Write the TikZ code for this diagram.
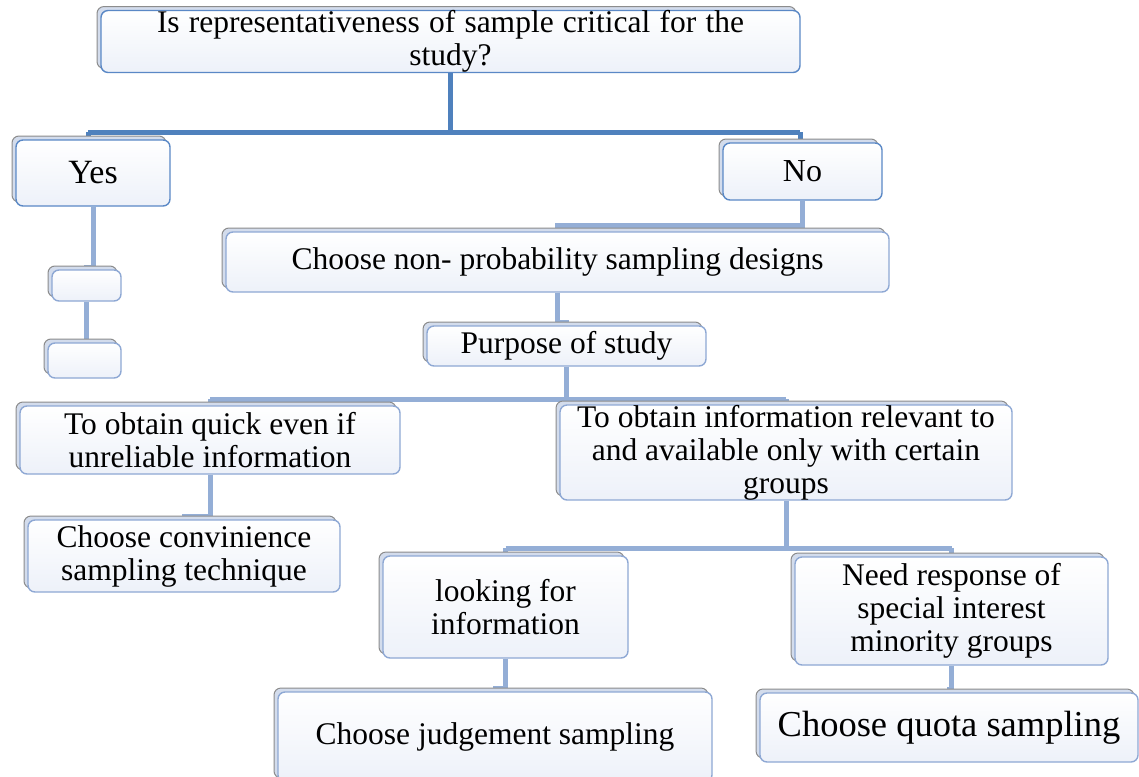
\documentclass[tikz,border=0pt]{standalone}
\usepackage{fontspec}
\setmainfont{Liberation Serif}
\usetikzlibrary{shadows,backgrounds,calc}
\definecolor{lineA}{HTML}{4F81BD}
\definecolor{lineB}{HTML}{94AED6}
\definecolor{edgeA}{HTML}{5A88C6}
\definecolor{edgeB}{HTML}{8EA8D4}
\definecolor{shadeF}{HTML}{D3DCEC}
\definecolor{shadeD}{HTML}{8C8C8C}
\definecolor{boxBot}{HTML}{EDF1F9}
\tikzset{
  box/.style={rounded corners=7pt, draw=edgeB, line width=1.4pt,
    top color=white, bottom color=boxBot, align=center, inner sep=0pt,
    font=\fontsize{31.5}{33}\selectfont,
    copy shadow={shadow xshift=-4pt, shadow yshift=4pt, draw=shadeD, fill=shadeF, line width=1pt}},
  boxA/.style={box, draw=edgeA},
  connA/.style={draw=lineA, line width=5pt},
  connB/.style={draw=lineB, line width=5pt},
}
\begin{document}
\begin{tikzpicture}[x=1pt, y=-1pt]
\path[use as bounding box] (0,0) rectangle (1139,776);
\clip (0,0) rectangle (1139,776);

% boxes
\node[boxA, minimum width=699pt, minimum height=57pt] (top) at (450.5,41.5)
  {\makebox[587pt][s]{Is representativeness of sample critical for the}\\study?};
\node[boxA, minimum width=154pt, minimum height=66pt, font=\fontsize{34}{36}\selectfont] (yes) at (93,173) {Yes};
\node[box, minimum width=69pt, minimum height=31pt] (s1) at (86.5,285.5) {};
\node[box, minimum width=73pt, minimum height=35pt] (s2) at (84.5,360.5) {};
\node[boxA, minimum width=159pt, minimum height=57pt, font=\fontsize{32}{34}\selectfont] (no) at (802.5,171.5) {No};
\node[box, minimum width=663pt, minimum height=60pt] (nonprob) at (557.5,262) {Choose non- probability sampling designs};
\node[box, minimum width=279pt, minimum height=40pt] (purpose) at (566.5,346) {Purpose of study};
\node[box, minimum width=380pt, minimum height=68pt] (quick) at (210,440) {To obtain quick even if\\unreliable information};
\node[box, minimum width=452pt, minimum height=89pt] (relevant) at (786,452.5) {To obtain information relevant to\\and available only with certain\\groups};
\node[box, minimum width=312pt, minimum height=72pt] (conv) at (184,556) {Choose convinience\\sampling technique};
\node[box, minimum width=245pt, minimum height=102pt] (looking) at (505.5,607) {looking for\\information};
\node[box, minimum width=313pt, minimum height=108pt] (need) at (951.5,611) {Need response of\\special interest\\minority groups};
\node[box, minimum width=434pt, minimum height=90pt] (judge) at (495,737) {Choose judgement sampling};
\node[box, minimum width=378pt, minimum height=69pt, font=\fontsize{36.5}{38}\selectfont] (quota) at (949,727.5) {Choose quota sampling};

% bar coordinates
\coordinate (b1l) at (88,132);
\coordinate (b1r) at (800,132);
\coordinate (b2l) at (210,399);
\coordinate (b2r) at (786,399);
\coordinate (b3l) at (505.5,548);
\coordinate (b3r) at (951.5,548);

\begin{pgfonlayer}{background}
  \fill[white] (0,0) rectangle (1139,776);
  \draw[connA] (top.south) -- (top.south |- b1l);
  \draw[connA] (b1l) -- (b1r);
  \draw[connA] (b1l) -- (yes.north -| b1l);
  \draw[connA] (b1r) -- (no.north -| b1r);
  \draw[connB] (yes.south) |- ([yshift=2pt]s1.north) -- (s1.north);
  \draw[connB] (s1.south) -- (s2.north -| s1.south);
  \draw[connB] (no.south) |- ([yshift=6pt]nonprob.north) -- (nonprob.north);
  \draw[connB] (nonprob.south) |- ([yshift=3pt]purpose.north) -- (purpose.north);
  \draw[connB] (purpose.south) -- (purpose.south |- b2l);
  \draw[connB] (b2l) -- (b2r);
  \draw[connB] (b2l) -- (quick.north);
  \draw[connB] (b2r) -- (relevant.north);
  \draw[connB] (quick.south) |- ([yshift=3pt]conv.north) -- (conv.north);
  \draw[connB] (relevant.south) -- (relevant.south |- b3l);
  \draw[connB] (b3l) -- (b3r);
  \draw[connB] (b3l) -- (looking.north);
  \draw[connB] (b3r) -- (need.north);
  \draw[connB] (looking.south) |- ([yshift=3pt]judge.north) -- (judge.north);
  \draw[connB] (need.south) |- ([yshift=3pt]quota.north) -- (quota.north);
\end{pgfonlayer}
\end{tikzpicture}
\end{document}
